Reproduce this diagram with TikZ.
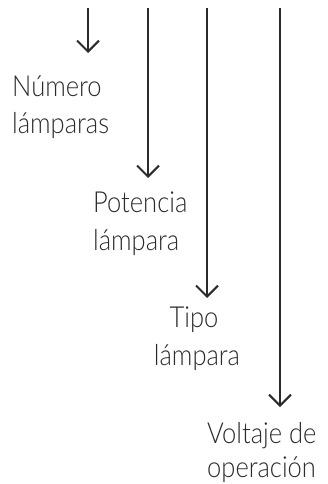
\documentclass[tikz,border=0pt]{standalone}
\usepackage{fontspec}
\setmainfont{Lato}[UprightFont=* Light, FakeStretch=0.88]
\usetikzlibrary{arrows.meta}
\definecolor{ink}{HTML}{2B2B2B}
\tikzset{
  flow/.style={draw=ink, line width=2.2pt, -{Straight Barb[length=11pt,width=22pt,line width=2pt]}},
  lbl/.style={inner sep=0pt, text=ink, font=\fontsize{29}{35}\selectfont, anchor=base west}
}
\begin{document}
\begin{tikzpicture}[x=1pt,y=-1pt]
\useasboundingbox (0,0) rectangle (328,484);
% labels
\node[lbl] (n1) at (12,97) {Número};
\node[lbl] (n2) at (12,133) {lámparas};
\node[lbl] (p1) at (93,212) {Potencia};
\node[lbl] (p2) at (93,250) {lámpara};
\node[lbl,anchor=base] (t1) at (194,327) {Tipo};
\node[lbl,anchor=base] (t2) at (197,365) {lámpara};
\node[lbl] (v1) at (207,443) {Voltaje de};
\node[lbl] (v2) at (207,477) {operación};
% arrows
\coordinate (a1s) at (88,8);   \coordinate (a1e) at (88,53);
\coordinate (a2s) at (148,8);  \coordinate (a2e) at (148,178);
\coordinate (a3s) at (207,8);  \coordinate (a3e) at (207,298);
\coordinate (a4s) at (280,8);  \coordinate (a4e) at (280,407);
\draw[flow] (a1s) -- (a1e);
\draw[flow] (a2s) -- (a2e);
\draw[flow] (a3s) -- (a3e);
\draw[flow] (a4s) -- (a4e);
\end{tikzpicture}
\end{document}
